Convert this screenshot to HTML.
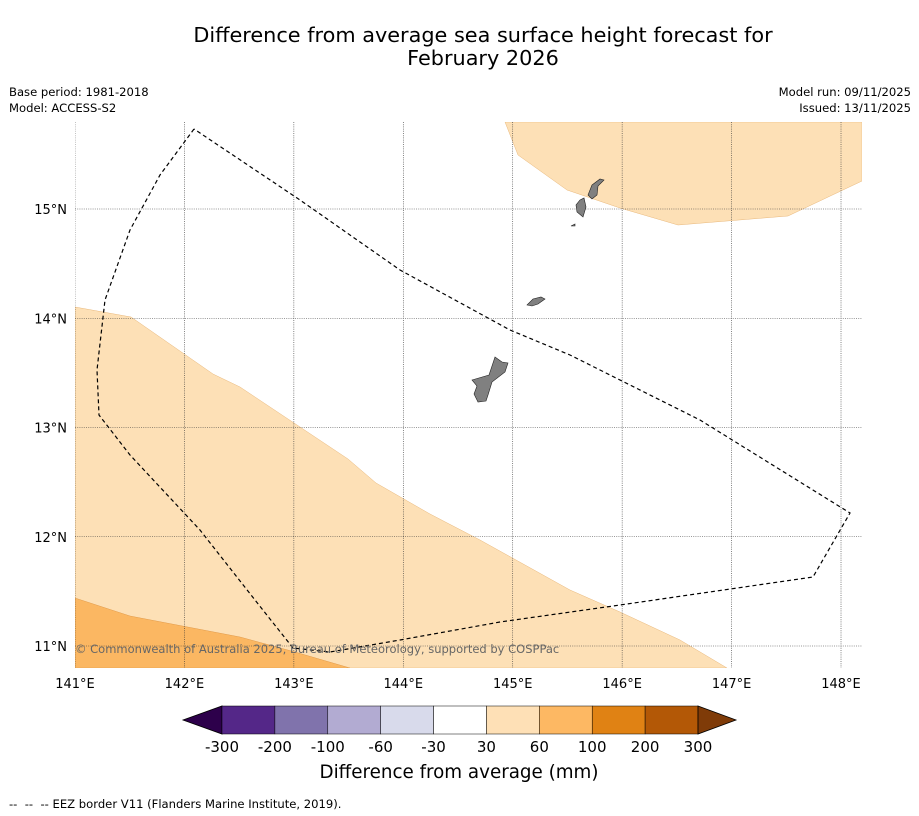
<!DOCTYPE html>
<html><head><meta charset="utf-8"><style>
body{margin:0;background:#fff;font-family:"Liberation Sans","DejaVu Sans",sans-serif}
#wrap{position:relative;width:919px;height:816px;overflow:hidden}
</style></head><body><div id="wrap">
<svg id="svg" width="919" height="816" xmlns="http://www.w3.org/2000/svg" font-family="DejaVu Sans, Liberation Sans, sans-serif">
<text x="483" y="42" text-anchor="middle" font-size="20.8">Difference from average sea surface height forecast for</text>
<text x="483" y="65" text-anchor="middle" font-size="20.8">February 2026</text>
<text x="9" y="96" font-size="11.6">Base period: 1981-2018</text>
<text x="9" y="112" font-size="11.6">Model: ACCESS-S2</text>
<text x="911" y="96" font-size="11.6" text-anchor="end">Model run: 09/11/2025</text>
<text x="911" y="112" font-size="11.6" text-anchor="end">Issued: 13/11/2025</text>
<defs><clipPath id="clip"><rect x="75" y="122" width="787" height="546"/></clipPath></defs>
<g clip-path="url(#clip)">
<polygon fill="#fde0b6" stroke="#e8b77a" stroke-width="0.5" points="75,307 131,317 213,374 240,387 348,459 376,483 430,514 480,540 570,590 620,612 680,640 727,668 75,668"/>
<polygon fill="#fde0b6" stroke="#e8b77a" stroke-width="0.5" points="505,122 518,155 567,190 620,208 678,225 788,216 862,181 862,122"/>
<polygon fill="#fbb762" stroke="#e09a4a" stroke-width="0.5" points="75,598 130,616 240,637 295,652 350,668 75,668"/>
<g id="grid" stroke="#333" stroke-width="0.6" stroke-dasharray="1,1.2"></g>
<g fill="#808080" stroke="#222" stroke-width="0.6">
<polygon points="495,357 502,362 508,363 505,372 492,382 488,395 486,401 478,402 474,394 477,386 472,380 489,375"/>
<polygon points="527,305 533,299 541,297 545,299 538,304 532,306"/>
<polygon points="580,200 584,198 586,207 583,217 577,212 576,205"/>
<polygon points="592,185 600,179 604,180 598,186 597,195 592,199 588,195"/>
<polygon points="571,226 575,224 575,226"/>
</g>
<polyline fill="none" stroke="#000" stroke-width="1.2" stroke-dasharray="4,3" points="194,129 160,175 130,230 105,300 97,370 99,415 130,455 200,530 255,600 293,648 330,652 400,640 500,622 620,605 813,577 850,513 700,420 570,355 510,330 400,270 300,200 194,129"/>
<text x="75" y="653" font-size="11.5" fill="#666">© Commonwealth of Australia 2025, Bureau of Meteorology, supported by COSPPac</text>
</g>
<g id="axes" font-size="13"></g>
<g id="cbar"></g>
<text x="459" y="778" text-anchor="middle" font-size="18.3">Difference from average (mm)</text>
<text x="9" y="808" font-size="11.6" xml:space="preserve">--  --  -- EEZ border V11 (Flanders Marine Institute, 2019).</text>
</svg>
<script>
const lonTicks=[141,142,143,144,145,146,147,148];
const latTicks=[11,12,13,14,15];
const cbarLabels=["-300","-200","-100","-60","-30","30","60","100","200","300"];
const cbarColors=["#542788","#8073ac","#b2abd2","#d8daeb","#ffffff","#fee0b6","#fdb863","#e08214","#b35806"];
const NS="http://www.w3.org/2000/svg";
const X=l=>75+(l-141)*109.43, Y=l=>646-(l-11)*109.25;
function mk(t,a,p){const e=document.createElementNS(NS,t);for(const k in a)e.setAttribute(k,a[k]);p.appendChild(e);return e;}
const grid=document.getElementById('grid'),axes=document.getElementById('axes'),cb=document.getElementById('cbar');
lonTicks.forEach(l=>{const x=X(l);
const g=mk('line',{x1:x,x2:x,y1:122,y2:668},grid);
const t=mk('text',{x:x,y:688,'text-anchor':'middle'},axes);t.textContent=l+'°E';});
latTicks.forEach(l=>{const y=Y(l);
const g=mk('line',{x1:75,x2:862,y1:y,y2:y},grid);
const t=mk('text',{x:67,y:y+5,'text-anchor':'end'},axes);t.textContent=l+'°N';});
const x0=222,x1=698,w=(x1-x0)/cbarColors.length,yt=706,yb=734;
let p=mk('polygon',{points:`183,720 ${x0},${yt} ${x0},${yb}`,fill:'#2d004b',stroke:'#000','stroke-width':0.8},cb);

cbarColors.forEach((c,i)=>{const r=mk('rect',{x:x0+i*w,y:yt,width:w,height:yb-yt,fill:c,stroke:'#000','stroke-width':0.5},cb);
});
p=mk('polygon',{points:`${x1},${yt} 736,720 ${x1},${yb}`,fill:'#7f3b08',stroke:'#000','stroke-width':0.8},cb);

cbarLabels.forEach((s,i)=>{const t=mk('text',{x:x0+i*w,y:752,'text-anchor':'middle','font-size':15},cb);t.textContent=s;
});
</script>
</div></body></html>
